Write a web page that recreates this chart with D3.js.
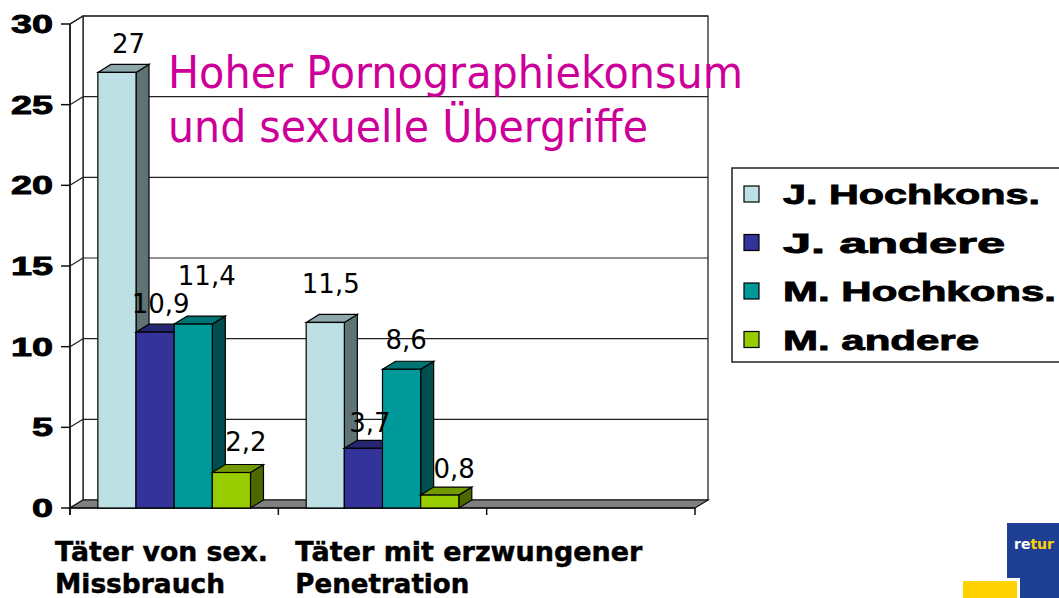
<!DOCTYPE html>
<html>
<head>
<meta charset="utf-8">
<script src="https://cdn.jsdelivr.net/npm/d3@7"></script>
<style>
  html, body { margin: 0; padding: 0; background: #fff; }
  svg { display: block; }
</style>
</head>
<body>
<svg id="chart" width="1059" height="598"></svg>
<script>
// data
const categories = ["Täter von sex.\nMissbrauch", "Täter mit erzwungener\nPenetration", ""];
const seriesNames = ["J. Hochkons.", "J. andere", "M. Hochkons.", "M. andere"];
const seriesValues = [
  [27, 11.5],
  [10.9, 3.7],
  [11.4, 8.6],
  [2.2, 0.8]
];
const yTicks = [0, 5, 10, 15, 20, 25, 30];
const titleLines = ["Hoher Pornographiekonsum", "und sexuelle Übergriffe"];

// look
const colors = ["#BCE0E4", "#333399", "#009999", "#99CC00"];
const depth = { dx: 13, dy: -8 };
// excel puts its labels a bit unevenly; [shift x, lift above top]
const labelNudge = [
  [[5, 11], [-1, 21]],
  [[-1, 11], [0, 8]],
  [[7, 31], [-2, 12]],
  [[8, 14], [8, 9]]
];

const svg = d3.select("#chart");

const y = d3.scaleLinear().domain([0, 30]).range([508, 24]);
const x = d3.scaleBand().domain(d3.range(categories.length)).range([70, 695]);
const xInner = d3.scaleBand().domain(d3.range(seriesNames.length))
  .range([0, x.bandwidth()]).paddingInner(0).paddingOuter(0.73);

const x0 = x.range()[0], x1 = x.range()[1];
const { dx, dy } = depth;
const poly = pts => pts.map(p => p.join(",")).join(" ");

// walls
const walls = svg.append("g").attr("class", "walls");
walls.append("rect")
  .attr("x", x0 + dx).attr("y", y(30) + dy)
  .attr("width", x1 - x0).attr("height", y(0) - y(30))
  .attr("fill", "#fff").attr("stroke", "#111").attr("stroke-width", 1.2);
walls.append("polygon")
  .attr("points", poly([[x0, y(30)], [x0 + dx, y(30) + dy], [x0 + dx, y(0) + dy], [x0, y(0)]]))
  .attr("fill", "#fff").attr("stroke", "#111").attr("stroke-width", 1.2);

// grid
const grid = svg.append("g").attr("class", "grid").attr("stroke", "#222").attr("stroke-width", 1.2);
yTicks.filter(v => v > 0).forEach(v => {
  grid.append("line")
    .attr("x1", x0 + dx).attr("x2", x1 + dx)
    .attr("y1", y(v) + dy).attr("y2", y(v) + dy);
  grid.append("line")
    .attr("x1", x0).attr("x2", x0 + dx)
    .attr("y1", y(v)).attr("y2", y(v) + dy);
});

// floor
svg.append("polygon")
  .attr("points", poly([[x0, y(0)], [x0 + dx, y(0) + dy], [x1 + dx, y(0) + dy], [x1, y(0)]]))
  .attr("fill", "#808080").attr("stroke", "#111").attr("stroke-width", 1.2);

// y axis
const yAxis = svg.append("g").attr("class", "y-axis");
yAxis.append("line")
  .attr("x1", x0).attr("x2", x0).attr("y1", y(30)).attr("y2", y(0) + 7)
  .attr("stroke", "#111").attr("stroke-width", 1.5);
yAxis.selectAll(".tick").data(yTicks).join("line")
  .attr("x1", x0 - 9).attr("x2", x0).attr("y1", d => y(d)).attr("y2", d => y(d))
  .attr("stroke", "#111").attr("stroke-width", 1.5);
yAxis.selectAll("text").data(yTicks).join("text")
  .attr("x", 53).attr("y", d => y(d) + 9)
  .attr("text-anchor", "end")
  .attr("font-family", "'Liberation Sans', Arial, sans-serif")
  .attr("font-weight", "bold").attr("font-size", 26)
  .attr("stroke", "#000").attr("stroke-width", 0.9)
  .attr("textLength", d => String(d).length * 21)
  .attr("lengthAdjust", "spacingAndGlyphs")
  .text(d => d);

// x axis
const xAxis = svg.append("g").attr("class", "x-axis");
xAxis.append("line")
  .attr("x1", x0).attr("x2", x1).attr("y1", y(0)).attr("y2", y(0))
  .attr("stroke", "#111").attr("stroke-width", 1.5);
xAxis.selectAll(".tick").data(d3.range(categories.length + 1)).join("line")
  .attr("x1", i => x0 + i * x.step()).attr("x2", i => x0 + i * x.step())
  .attr("y1", y(0)).attr("y2", y(0) + 7)
  .attr("stroke", "#111").attr("stroke-width", 1.5);

const catShift = [-15, 17];
const catWidths = [[213, 170], [347, 174]];
categories.forEach((c, ci) => {
  if (!c) return;
  c.split("\n").forEach((line, li) => {
    xAxis.append("text")
      .attr("x", x(ci) + catShift[ci]).attr("y", 561 + li * 32)
      .attr("font-family", "'DejaVu Sans', Verdana, sans-serif")
      .attr("font-weight", "bold").attr("font-size", 27)
      .attr("stroke", "#000").attr("stroke-width", 0.5)
      .attr("textLength", catWidths[ci][li])
      .attr("lengthAdjust", "spacingAndGlyphs")
      .text(line);
  });
});

// bars
const bars = svg.append("g").attr("class", "bars");
const labels = svg.append("g").attr("class", "labels");

categories.forEach((c, ci) => {
  seriesValues.forEach((vals, si) => {
    const v = vals[ci];
    if (v === undefined) return;
    const bx0 = x(ci) + xInner(si);
    const bx1 = bx0 + xInner.bandwidth();
    const top = y(v), base = y(0);
    const g = bars.append("g");
    g.append("polygon")
      .attr("points", poly([[bx1, top], [bx1 + dx, top + dy], [bx1 + dx, base + dy], [bx1, base]]))
      .attr("fill", d3.rgb(colors[si]).darker(1.9))
      .attr("stroke", "#000").attr("stroke-width", 1.2);
    g.append("polygon")
      .attr("points", poly([[bx0, top], [bx0 + dx, top + dy], [bx1 + dx, top + dy], [bx1, top]]))
      .attr("fill", d3.rgb(colors[si]).darker(0.8))
      .attr("stroke", "#000").attr("stroke-width", 1.2);
    g.append("rect")
      .attr("x", bx0).attr("y", top)
      .attr("width", bx1 - bx0).attr("height", base - top)
      .attr("fill", colors[si])
      .attr("stroke", "#000").attr("stroke-width", 1.2);

    const [nx, lift] = labelNudge[si][ci];
    labels.append("text")
      .attr("x", (bx0 + bx1 + dx) / 2 + nx)
      .attr("y", top + dy - lift)
      .attr("text-anchor", "middle")
      .attr("font-family", "'DejaVu Sans', Verdana, sans-serif")
      .attr("font-size", 26)
      .text(String(v).replace(".", ","));
  });
});

// title
svg.append("g").attr("class", "title").selectAll("text").data(titleLines).join("text")
  .attr("x", 168).attr("y", (d, i) => 88 + i * 54)
  .attr("fill", "#CC0099")
  .attr("font-family", "'DejaVu Sans', Verdana, sans-serif")
  .attr("font-size", 44)
  .attr("textLength", (d, i) => [575, 480][i])
  .attr("lengthAdjust", "spacingAndGlyphs")
  .text(d => d);

// legend
const legend = svg.append("g").attr("class", "legend");
legend.append("rect")
  .attr("x", 732).attr("y", 168).attr("width", 340).attr("height", 194)
  .attr("fill", "#fff").attr("stroke", "#222").attr("stroke-width", 1.5);
const legendWidths = [257, 222, 273, 196];
const items = legend.selectAll(".item").data(seriesNames).join("g")
  .attr("transform", (d, i) => `translate(744,${194 + i * 48.5})`);
items.append("rect")
  .attr("x", 0).attr("y", -8).attr("width", 15).attr("height", 16)
  .attr("fill", (d, i) => colors[i]).attr("stroke", "#000").attr("stroke-width", 1.2);
items.append("text")
  .attr("x", 39).attr("y", 10)
  .attr("font-family", "'Liberation Sans', Arial, sans-serif")
  .attr("font-weight", "bold").attr("font-size", 28)
  .attr("stroke", "#000").attr("stroke-width", 0.9)
  .attr("textLength", (d, i) => legendWidths[i])
  .attr("lengthAdjust", "spacingAndGlyphs")
  .text(d => d);

// logo corner
const logo = svg.append("g").attr("class", "logo");
logo.append("rect").attr("x", 1007).attr("y", 523).attr("width", 60).attr("height", 80).attr("fill", "#1F3F95");
logo.append("rect").attr("x", 960).attr("y", 578).attr("width", 60).attr("height", 24).attr("fill", "#fff");
logo.append("rect").attr("x", 963).attr("y", 581).attr("width", 54).attr("height", 20).attr("fill", "#FFD200");
const lt = logo.append("text").attr("x", 1014).attr("y", 549)
  .attr("font-family", "'DejaVu Sans', sans-serif").attr("font-weight", "bold").attr("font-size", 14);
lt.append("tspan").attr("fill", "#fff").text("re");
lt.append("tspan").attr("fill", "#FFD200").text("tur");
</script>
</body>
</html>
